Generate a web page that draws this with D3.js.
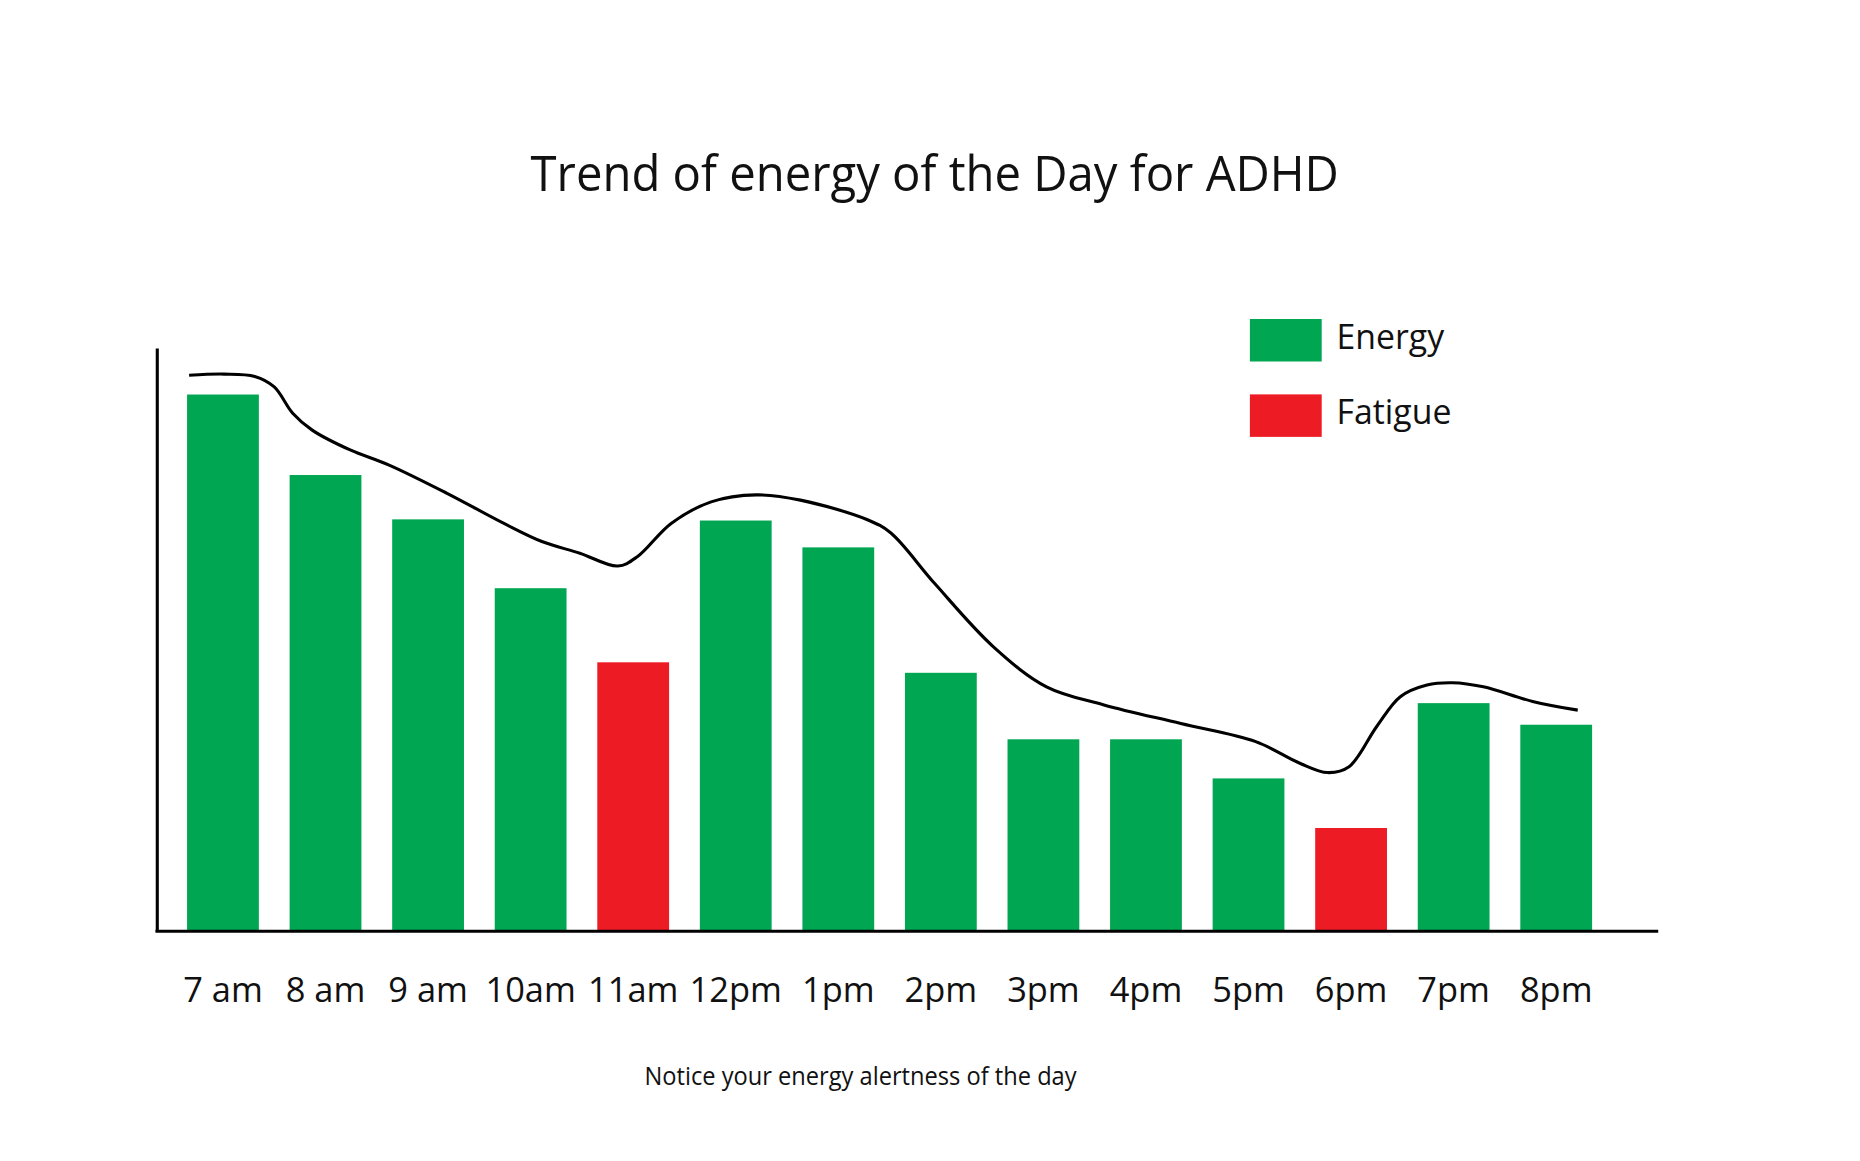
<!DOCTYPE html>
<html>
<head>
	<title>Trend of energy of the Day for ADHD</title>
	<script src="https://d3js.org/d3.v7.min.js" charset="utf-8"></script>
	<style>
		body { margin: 0; background: white; }
		text { font-family: "Open Sans", sans-serif; fill: #111; }
	</style>
</head>
<body>
	<div id="chart"></div>
	<script>
		// data
		var hours = ["7 am", "8 am", "9 am", "10am", "11am", "12pm", "1pm", "2pm", "3pm", "4pm", "5pm", "6pm", "7pm", "8pm"];
		var energy = [92.0, 78.2, 70.6, 58.8, 46.1, 70.4, 65.8, 44.3, 32.9, 32.9, 26.2, 17.7, 39.1, 35.4];
		var kind = ["Energy", "Energy", "Energy", "Energy", "Fatigue", "Energy", "Energy", "Energy", "Energy", "Energy", "Energy", "Fatigue", "Energy", "Energy"];
		// hand drawn trend line: [hour of day, level]
		var trendHour = [6.67, 7.01, 7.31, 7.50, 7.68, 7.87, 8.24, 8.62, 9.18, 9.74, 10.11, 10.48, 10.85, 11.04, 11.37, 11.76, 12.20, 12.63, 13.29, 13.51, 13.94, 14.51, 15.03, 15.59, 16.34, 17.07, 17.50, 17.77, 17.98, 18.25, 18.48, 18.74, 18.99, 19.29, 19.77, 20.21];
		var trendLevel = [95.3, 95.5, 95.1, 93.3, 88.8, 85.9, 82.5, 79.9, 75.1, 69.9, 66.8, 64.8, 62.6, 64.2, 69.9, 73.6, 74.8, 73.9, 70.5, 68.3, 59.6, 48.8, 41.9, 38.8, 35.6, 32.5, 28.8, 27.2, 28.2, 35.1, 40.2, 42.2, 42.6, 41.9, 39.4, 37.9];
		var legendKeys = ["Energy", "Fatigue"];
		var title = "Trend of energy of the Day for ADHD";
		var note = "Notice your energy alertness of the day";

		var W = 1567, H = 978;
		var svg = d3.select("#chart")
			.append("svg")
			.attr("width", 1860)
			.attr("height", 1161)
			.attr("viewBox", "0 0 " + W + " " + H)
			.attr("xmlns", "http://www.w3.org/2000/svg");

		var color = d3.scaleOrdinal()
			.domain(legendKeys)
			.range(["#00a651", "#ed1c24"]);

		// scales
		var x = d3.scaleBand()
			.domain(hours)
			.range([157.6, 1341.3])
			.paddingInner(0.3)
			.paddingOuter(0);
		var y = d3.scaleLinear()
			.domain([0, 100])
			.range([784.5, 293]);
		// hour of day -> same centres as the bars
		var xh = d3.scaleLinear()
			.domain([7, 20])
			.range([x(hours[0]) + x.bandwidth() / 2, x(hours[13]) + x.bandwidth() / 2]);

		// title
		svg.append("text")
			.attr("x", 787.5)
			.attr("y", 161)
			.attr("text-anchor", "middle")
			.attr("font-size", 42)
			.attr("textLength", 681)
			.attr("lengthAdjust", "spacingAndGlyphs")
			.text(title);

		// bars
		svg.selectAll(".bar")
			.data(energy)
			.enter().append("rect")
			.attr("class", "bar")
			.attr("x", function(d, i) { return x(hours[i]); })
			.attr("y", function(d) { return y(d); })
			.attr("width", x.bandwidth())
			.attr("height", function(d) { return y(0) - y(d); })
			.attr("fill", function(d, i) { return color(kind[i]); });

		// trend line
		var line = d3.line()
			.x(function(d, i) { return xh(d); })
			.y(function(d, i) { return y(trendLevel[i]); })
			.curve(d3.curveCatmullRom.alpha(0.5));
		svg.append("path")
			.datum(trendHour)
			.attr("d", line)
			.attr("fill", "none")
			.attr("stroke", "#000")
			.attr("stroke-width", 2.6);

		// axes
		var axisY = svg.append("g")
			.attr("transform", "translate(132,0)")
			.call(d3.axisLeft(y).ticks(0).tickSize(0).tickSizeOuter(0));
		axisY.select(".domain").attr("stroke", "#000").attr("stroke-width", 2.6);

		svg.append("line")
			.attr("x1", 131)
			.attr("x2", 1397)
			.attr("y1", y(0))
			.attr("y2", y(0))
			.attr("stroke", "#000")
			.attr("stroke-width", 2.6);

		var axisX = svg.append("g")
			.attr("transform", "translate(0," + y(0) + ")")
			.call(d3.axisBottom(x).tickSize(0).tickPadding(39));
		axisX.select(".domain").remove();
		axisX.selectAll("text")
			.attr("font-size", 29)
			.attr("font-family", "Open Sans")
			.attr("fill", "#111")
			.attr("dy", "0.71em");

		// legend
		var legend = svg.selectAll(".legend")
			.data(legendKeys)
			.enter().append("g")
			.attr("class", "legend")
			.attr("transform", function(d, i) { return "translate(1053," + (268.7 + i * 63.5) + ")"; });
		legend.append("rect")
			.attr("width", 60.5)
			.attr("height", 35.8)
			.attr("fill", function(d) { return color(d); });
		legend.append("text")
			.attr("x", 73)
			.attr("y", 25)
			.attr("font-size", 28.5)
			.text(function(d) { return d; });

		// footnote
		svg.append("text")
			.attr("x", 725)
			.attr("y", 914)
			.attr("text-anchor", "middle")
			.attr("font-size", 21.5)
			.attr("textLength", 364)
			.attr("lengthAdjust", "spacingAndGlyphs")
			.text(note);
	</script>
</body>
</html>
